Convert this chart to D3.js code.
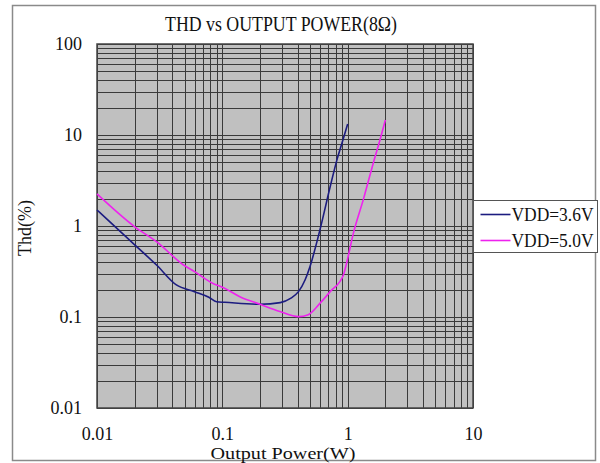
<!DOCTYPE html>
<html>
<head>
<meta charset="utf-8">
<script src="https://cdn.jsdelivr.net/npm/d3@7"></script>
<style>
body { margin:0; background:#fff; }
text { font-family:"Liberation Serif","DejaVu Serif",serif; fill:#111; }
</style>
</head>
<body>
<svg id="chart"></svg>
<script>
// data
var power36 = [0.01, 0.02, 0.03, 0.043, 0.06, 0.078, 0.09, 0.105, 0.2, 0.29, 0.35, 0.405, 0.457, 0.5, 0.6, 0.725, 0.82, 0.9, 1.0]
var thd36   = [1.5, 0.62, 0.37, 0.225, 0.19, 0.165, 0.147, 0.145, 0.138, 0.144, 0.16, 0.19, 0.255, 0.357, 0.9, 2.7, 5.3, 8.1, 13.2]
var power50 = [0.01, 0.02, 0.03, 0.049, 0.06, 0.082, 0.105, 0.138, 0.2, 0.288, 0.405, 0.485, 0.6, 0.725, 0.925, 0.98, 1.11, 1.34, 1.6, 1.81, 2.0]
var thd50   = [2.25, 0.98, 0.67, 0.373, 0.315, 0.238, 0.206, 0.167, 0.138, 0.115, 0.101, 0.106, 0.141, 0.19, 0.29, 0.39, 0.83, 2.0, 4.9, 8.8, 14.6]
var seriesNames = ["VDD=3.6V", "VDD=5.0V"]
var seriesColors = ["#1c1c80", "#ee22ee"]
var xTicks = [0.01, 0.1, 1, 10]
var yTicks = [0.01, 0.1, 1, 10, 100]
var xTickLabels = ["0.01", "0.1", "1", "10"]
var yTickLabels = ["0.01", "0.1", "1", "10", "100"]

var screen = {width:600, height:463}
var margins = {top:44, left:97, right:127, bottom:55}
var graph = {
    width: screen.width-margins.left-margins.right,
    height: screen.height-margins.top-margins.bottom
}

var svg = d3.select("#chart")
    .attr("width",screen.width)
    .attr("height",screen.height)

// outer frame
svg.append("rect")
    .attr("x",12.5).attr("y",5.5)
    .attr("width",583).attr("height",455)
    .attr("fill","#fff")
    .attr("stroke","#8a8a8a")
    .attr("stroke-width",1.5)

var xScale = d3.scaleLog()
    .domain([0.01,10])
    .range([0,graph.width])
var yScale = d3.scaleLog()
    .domain([0.01,100])
    .range([graph.height,0])

var g = svg.append("g")
    .attr("transform","translate("+margins.left+","+margins.top+")")

g.append("rect")
    .attr("width",graph.width)
    .attr("height",graph.height)
    .attr("fill","#c0c0c0")

// grid lines 1..9 in each decade
var gridX = []
xTicks.slice(0,-1).forEach(function(d){ for(var i=1;i<10;i++) gridX.push(d*i) })
gridX.push(10)
var gridY = []
yTicks.slice(0,-1).forEach(function(d){ for(var i=1;i<10;i++) gridY.push(d*i) })
gridY.push(100)

g.selectAll(".vgrid")
    .data(gridX)
    .enter()
    .append("line")
    .attr("x1",function(d){return Math.round(xScale(d))+0.5})
    .attr("x2",function(d){return Math.round(xScale(d))+0.5})
    .attr("y1",0).attr("y2",graph.height)
    .attr("stroke","#3a3a3a")
    .attr("stroke-width",1)

g.selectAll(".hgrid")
    .data(gridY)
    .enter()
    .append("line")
    .attr("y1",function(d){return Math.round(yScale(d))+0.5})
    .attr("y2",function(d){return Math.round(yScale(d))+0.5})
    .attr("x1",0).attr("x2",graph.width)
    .attr("stroke","#3a3a3a")
    .attr("stroke-width",1)

g.append("rect")
    .attr("width",graph.width)
    .attr("height",graph.height)
    .attr("fill","none")
    .attr("stroke","#444")
    .attr("stroke-width",1.5)

// axes, labels only
var xAxis = d3.axisBottom(xScale)
    .tickValues(xTicks)
    .tickSize(0)
    .tickFormat(function(d,i){return xTickLabels[i]})
var yAxis = d3.axisLeft(yScale)
    .tickValues(yTicks)
    .tickSize(0)
    .tickFormat(function(d,i){return yTickLabels[i]})

var xg = g.append("g")
    .attr("transform","translate(0,"+graph.height+")")
    .call(xAxis)
xg.select(".domain").remove()
xg.selectAll("text")
    .attr("y",19)
    .style("font-size","18px")
    .style("font-family","'Liberation Serif',serif")
    .attr("fill","#111")

var yg = g.append("g")
    .call(yAxis)
yg.select(".domain").remove()
yg.selectAll("text")
    .attr("x",-15)
    .style("font-size","18px")
    .style("font-family","'Liberation Serif',serif")
    .attr("fill","#111")

// lines
var line = d3.line()
    .x(function(d){return xScale(d[0])})
    .y(function(d){return yScale(d[1])})
    .curve(d3.curveMonotoneX)

var series = [d3.zip(power36,thd36), d3.zip(power50,thd50)]
g.selectAll(".series")
    .data(series)
    .enter()
    .append("path")
    .attr("d",line)
    .attr("fill","none")
    .attr("stroke",function(d,i){return seriesColors[i]})
    .attr("stroke-width",1.6)

// labels
svg.append("text")
    .text("THD vs OUTPUT POWER(8Ω)")
    .attr("x",281).attr("y",31)
    .attr("text-anchor","middle")
    .attr("textLength",232)
    .attr("lengthAdjust","spacingAndGlyphs")
    .style("font-size","20px")

svg.append("text")
    .text("Output Power(W)")
    .attr("x",283).attr("y",459)
    .attr("text-anchor","middle")
    .attr("textLength",145)
    .attr("lengthAdjust","spacingAndGlyphs")
    .style("font-size","17px")

svg.append("g")
    .attr("transform","translate(31,228)")
    .append("text")
    .text("Thd(%)")
    .attr("text-anchor","middle")
    .attr("transform","rotate(-90)")
    .attr("textLength",56)
    .attr("lengthAdjust","spacingAndGlyphs")
    .style("font-size","18px")

// legend
var legend = svg.append("g")
    .attr("transform","translate(473.5,200.5)")
legend.append("rect")
    .attr("width",124)
    .attr("height",52)
    .attr("fill","#fff")
    .attr("stroke","#555")
var items = legend.selectAll(".item")
    .data(seriesNames)
    .enter()
    .append("g")
    .attr("transform",function(d,i){return "translate(0,"+(14+i*26)+")"})
items.append("line")
    .attr("x1",7).attr("x2",37)
    .attr("stroke",function(d,i){return seriesColors[i]})
    .attr("stroke-width",1.6)
items.append("text")
    .text(function(d){return d})
    .attr("x",38).attr("y",6)
    .attr("textLength",82)
    .attr("lengthAdjust","spacingAndGlyphs")
    .style("font-size","18px")
</script>
</body>
</html>
